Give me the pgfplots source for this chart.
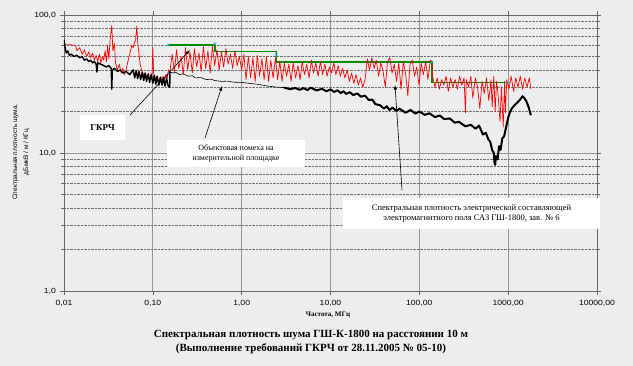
\documentclass[border=0pt]{standalone}
\usepackage{pgfplots}
\pgfplotsset{compat=1.18}
\usepackage{fontspec}
\setmainfont{Liberation Serif}
\newfontfamily\arial{Liberation Sans}
\definecolor{bg}{RGB}{237,237,237}
\definecolor{gridc}{RGB}{150,150,150}
\definecolor{grn}{RGB}{0,140,0}
\begin{document}
\begin{tikzpicture}[x=1pt,y=1pt]
\fill[bg] (0,0) rectangle (633,366);
\useasboundingbox (0,0) rectangle (633,366);
\begin{axis}[at={(64pt,75pt)}, anchor=south west, scale only axis,
  width=533pt, height=276pt,
  xmode=log, ymode=log, xmin=0.01, xmax=10000, ymin=1, ymax=100,
  xtick={0.01,0.1,1,10,100,1000,10000},
  xticklabels={{0,01},{0,10},{1,00},{10,00},{100,00},{1000,00},{10000,00}},
  ytick={1,10,100},
  yticklabels={{1,0},{10,0},{100,0}},
  /pgf/number format/assume math mode=true,
  xminorticks=false,
  xmajorgrids=true, ymajorgrids=true, yminorgrids=true,
  major grid style={gridc, line width=0.7pt},
  minor grid style={gray!90!black, densely dotted, line width=0.5pt},
  axis line style={gray!80!black, line width=0.8pt},
  tick style={gray!80!black, line width=0.6pt},
  tick align=outside, major tick length=4pt, minor tick length=3pt,
  xticklabel style={font=\arial\fontsize{7.5}{8}\selectfont, xscale=1.15, yshift=-2pt},
  yticklabel style={font=\arial\fontsize{7.5}{8}\selectfont, xscale=1.15},
  axis background/.style={fill=bg},
]
% GKRCh limit
\addplot[grn, line width=1.4pt, line join=miter] coordinates {
(0.15,60.6) (0.5,60.6) (0.5,54.3) (2.45,54.3) (2.45,45.6) (139,45.6) (139,32.4) (1000,32.4)};
\addplot[cyan, only marks, mark=x, mark size=1.8pt, line width=0.5pt] coordinates {
(0.15,60.6) (0.5,62) (2.45,52) (139,45.6) (1000,32.4)};
% Red series
\addplot[red, line width=0.7pt, line join=round] coordinates {
(0.010,61) (0.0115,61) (0.0135,60) (0.014,55) (0.015,58) (0.016,52) (0.017,56) (0.018,50)
(0.019,54) (0.020,49) (0.021,53) (0.022,47) (0.023,51) (0.024,46) (0.025,52) (0.026,45)
(0.027,50) (0.028,47) (0.029,55) (0.030,46) (0.031,60) (0.032,48) (0.033,65) (0.0345,84)
(0.0355,55) (0.037,62) (0.038,45) (0.040,40) (0.042,44) (0.044,38) (0.046,41) (0.048,37)
(0.050,40) (0.052,45) (0.054,50) (0.056,55) (0.058,60) (0.060,58) (0.062,63) (0.064,66)
(0.066,83) (0.068,60) (0.070,52) (0.072,44) (0.075,40) (0.078,36) (0.080,38) (0.083,35)
(0.086,37) (0.09,34) (0.094,36) (0.098,38) (0.1,58) (0.102,38) (0.106,34) (0.11,36)
(0.115,33) (0.12,35) (0.125,33) (0.13,36) (0.135,34) (0.14,37) (0.145,35) (0.15,40)
(0.155,38) (0.165,52) (0.175,39) (0.185,56) (0.196,41) (0.208,50) (0.22,37) (0.233,58)
(0.247,40) (0.262,54) (0.278,38) (0.294,57) (0.312,42) (0.331,53) (0.35,39) (0.371,59)
(0.394,41) (0.417,55) (0.442,38) (0.469,60) (0.497,43) (0.527,56) (0.558,40) (0.592,54)
(0.627,42) (0.665,57) (0.705,44) (0.747,52) (0.792,41) (0.84,55) (0.89,43) (0.943,50)
(1.0,40) (1.06,52) (1.12,34) (1.19,50) (1.26,35) (1.34,49) (1.42,33) (1.5,51)
(1.59,36) (1.69,48) (1.79,34) (1.9,50) (2.01,33) (2.13,47) (2.26,35) (2.4,49)
(2.54,34) (2.69,46) (2.85,33) (3.02,45) (3.2,36) (3.4,44) (3.6,33) (3.8,45)
(4.05,35) (4.3,43) (4.55,34) (4.8,46) (5.1,37) (5.4,44) (5.75,35) (6.1,47)
(6.45,38) (6.85,45) (7.25,36) (7.7,46) (8.15,37) (8.65,44) (9.15,36) (9.7,42)
(10.3,38) (10.9,45) (11.5,37) (12.2,43) (12.9,36) (13.7,41) (14.5,35) (15.4,40)
(16.3,33) (17.3,38) (18.3,32) (19.4,37) (20.6,31) (21.8,35) (23.1,30) (24.5,34)
(26,48) (27.5,40) (29.2,49) (31,41) (32.8,47) (34.8,36) (36.9,45) (39.1,39)
(41.4,30) (43.9,46) (46.5,49) (49.3,38) (52.3,44) (55.4,33) (58.7,45) (62.3,29)
(66,46) (70,38) (74.2,26) (78.6,44) (83.3,47) (88.3,36) (93.6,42) (99.2,31)
(105,45) (111,37) (118,46) (125,34) (133,47) (139,46) (141,36) (150,30)
(159,35) (168,29) (178,34) (189,31) (200,36) (212,28) (225,35) (238,30)
(253,34) (268,29) (284,36) (301,31) (319,35) (330,19.5) (338,34) (358,30)
(380,36) (400,25) (427,35) (452,30) (480,21) (508,33) (539,27) (571,35)
(605,24) (642,34) (660,21.6) (690,36) (714,19.9) (740,33) (764,28) (810,16.8)
(840,30) (880,15.4) (910,33) (930,19.5) (965,34) (1020,29) (1080,36) (1150,28)
(1220,35) (1290,30) (1370,36) (1450,29) (1540,35) (1630,30) (1730,35) (1800,29)};
% Black series (interference), thick noisy part
\addplot[black, line width=1.4pt, line join=round] coordinates {
(0.010,66) (0.0103,58) (0.0106,53) (0.011,55) (0.0115,51) (0.012,52) (0.013,50) (0.014,51)
(0.015,49) (0.016,50) (0.017,47) (0.018,48) (0.019,46) (0.020,47) (0.021,45) (0.022,46)
(0.023,44) (0.0235,38.6) (0.024,45) (0.026,44) (0.028,43) (0.030,42) (0.032,43) (0.034,41)
(0.0345,29) (0.035,40) (0.037,41) (0.040,39) (0.043,40) (0.046,38) (0.050,39) (0.055,37)
(0.060,40) (0.0625,35) (0.065,39.5) (0.0675,34.5) (0.070,39) (0.073,34) (0.076,38.5) (0.079,33.5)
(0.082,38) (0.085,33) (0.089,37.5) (0.092,32.5) (0.096,37) (0.1,32) (0.104,36.5) (0.108,31.5)
(0.112,36) (0.117,31) (0.122,35.5) (0.127,31) (0.132,35) (0.137,30.5) (0.143,35) (0.149,30.5)
(0.155,30) (0.156,38.6)};
% thin part
\addplot[black, line width=0.6pt] coordinates {
(0.156,38.6) (0.17,38) (0.18,38.5) (0.2,37) (0.22,37.5) (0.25,36) (0.28,36.3) (0.3,35)
(0.35,35.2) (0.4,34) (0.45,34.3) (0.5,33.5) (0.6,33) (0.7,33.2) (0.8,32.6) (1.0,32.5)
(1.2,32) (1.5,31.5) (2,30.5) (2.5,30) (3,29.8)};
% thick part
\addplot[black, line width=2pt, line join=round] coordinates {
(3,29.8) (3.5,29.0) (4,29.6) (4.5,28.7) (5,29.5) (5.5,28.6) (6,29.7) (7,28.4)
(8,29.2) (9,28.0) (10,28.9) (11,27.7) (12,28.5) (13,27.2) (14,28.0) (15,26.8)
(16.5,27.6) (18,26.3) (20,27.0) (22,25.6) (24.5,26.0) (27,24.2) (29.5,24.4) (32,22.6)
(36,22.2) (40,21.0) (43,21.8) (46,20.5) (50,21.3) (55,20.2) (60,20.9) (70,19.6)
(80,20.5) (90,19.3) (100,20.0) (115,18.9) (130,19.4) (150,18.2) (170,18.7) (190,17.6)
(220,17.8) (250,16.6) (280,16.8) (330,15.6) (380,16.0) (430,15.0) (470,15.8) (520,13.6)
(560,14.0) (600,12.5) (630,12.0) (660,10.5) (690,10.0) (700,8.6) (714,8.2) (730,9.5)
(760,9.0) (790,11.2) (820,10.5) (860,12.8) (900,13.2) (950,15.5) (1000,18.0) (1050,19.8)
(1100,21.0) (1180,22.2) (1250,23.0) (1350,24.2) (1450,25.8) (1520,25.0) (1600,23.8) (1700,21.5)
(1800,18.8)};
\end{axis}
% y label
\node[rotate=90, font=\arial\fontsize{6.5}{11}\selectfont, align=center] at (21,214)
  {Спектральная плотность шума,\\дБмкВ / м / КГц};
% x label
\node[font=\bfseries\fontsize{7}{8}\selectfont] at (328,51) {Частота, МГц};
% title
\node[font=\bfseries\fontsize{11}{14}\selectfont, align=center] at (311,24)
  {Спектральная плотность шума ГШ-К-1800 на расстоянии 10 м\\(Выполнение требований ГКРЧ от 28.11.2005 № 05-10)};
% annotations
\draw[black, line width=0.6pt, -latex] (130,251) -- (190,316);
\draw[black, line width=0.6pt, -latex] (205,228) -- (222,280);
\draw[black, line width=0.6pt, -latex] (402,176) -- (395,281);
\node[fill=white, minimum width=45pt, minimum height=25pt, inner sep=0pt, font=\bfseries\fontsize{9}{10}\selectfont] at (102.5,238.5) {ГКРЧ};
\node[fill=white, minimum width=138pt, minimum height=27pt, inner sep=0pt, align=center, font=\fontsize{8}{10}\selectfont] at (236,212.5)
  {Объектовая помеха на\\измерительной площадке};
\node[fill=white, minimum width=257pt, minimum height=31pt, inner sep=0pt, align=center, font=\fontsize{8.5}{10.5}\selectfont] at (471.5,152.5)
  {Спектральная плотность электрической составляющей\\электромагнитного поля САЗ ГШ-1800, зав. № 6};
\end{tikzpicture}
\end{document}
